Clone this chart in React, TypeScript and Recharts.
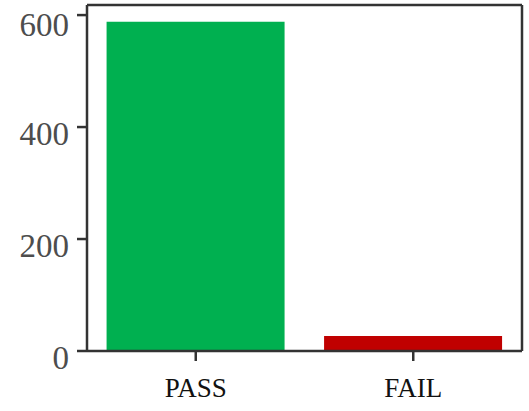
import React from 'react';
import { BarChart, Bar, Cell, XAxis, YAxis } from 'recharts';

const categories = ['PASS', 'FAIL'];
const counts = [588, 27];
const barColors = ['#00b050', '#c00000'];
const yTicks = [0, 200, 400, 600];

const data = categories.map((name, i) => ({ name, count: counts[i] }));

const axisColor = '#333333';
const font = 'Liberation Serif, serif';

export default function App() {
    return (
        <div style={{ position: 'absolute', left: 0, top: 0 }}>
            <BarChart
                width={529}
                height={411}
                data={data}
                barCategoryGap="9%"
                margin={{ top: 4, right: 6, bottom: 4, left: 0 }}
            >
                <XAxis
                    dataKey="name"
                    height={56}
                    tickSize={10}
                    tickMargin={17}
                    stroke={axisColor}
                    strokeWidth={2.5}
                    tick={{ fill: '#111', fontSize: 27, fontFamily: font }}
                />
                <XAxis
                    xAxisId="top"
                    orientation="top"
                    dataKey="name"
                    height={1}
                    tick={false}
                    tickLine={false}
                    stroke={axisColor}
                    strokeWidth={2.5}
                />
                <YAxis
                    width={87}
                    domain={[0, 618]}
                    ticks={yTicks}
                    tickSize={10}
                    tickMargin={8}
                    stroke={axisColor}
                    strokeWidth={2.5}
                    tick={{ fill: '#4d4d4d', fontSize: 33, fontFamily: font, dy: 6 }}
                />
                <YAxis
                    yAxisId="right"
                    orientation="right"
                    width={1}
                    domain={[0, 618]}
                    tick={false}
                    tickLine={false}
                    stroke={axisColor}
                    strokeWidth={2.5}
                />
                <Bar dataKey="count" isAnimationActive={false}>
                    {data.map((d, i) => (
                        <Cell key={d.name} fill={barColors[i]} />
                    ))}
                </Bar>
            </BarChart>
        </div>
    );
}
